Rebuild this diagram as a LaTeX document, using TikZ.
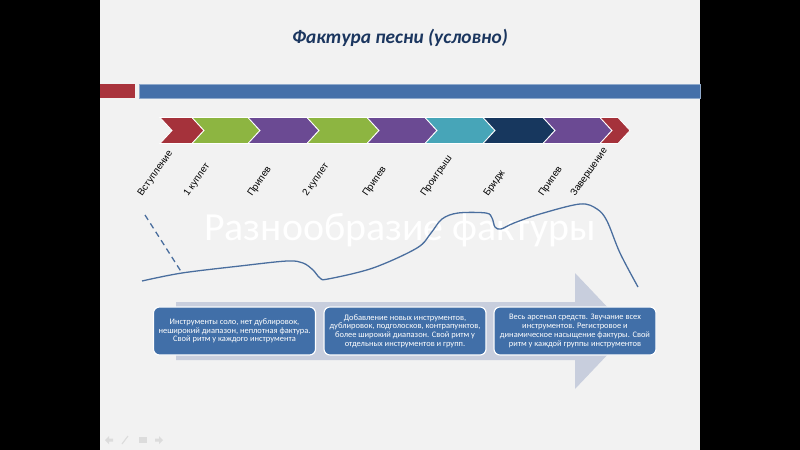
\documentclass[tikz,border=0pt]{standalone}
\usepackage{fontspec}
\setmainfont{Carlito}
\newfontfamily\labfont{Liberation Sans}
\definecolor{slidebg}{HTML}{F2F2F2}
\definecolor{titleblue}{HTML}{1B365F}
\definecolor{barred}{HTML}{A9333C}
\definecolor{barblue}{HTML}{4570A9}
\definecolor{cred}{HTML}{A5323B}
\definecolor{cgreen}{HTML}{8DB541}
\definecolor{cpurple}{HTML}{6B4A93}
\definecolor{cteal}{HTML}{47A5B8}
\definecolor{cnavy}{HTML}{17375E}
\definecolor{curveblue}{HTML}{4A6E9E}
\definecolor{arrowgray}{HTML}{C8CEDD}
\definecolor{boxblue}{HTML}{416FA8}
\definecolor{icongray}{HTML}{DCDCDC}
\newcommand\chevshape[3]{\filldraw[chev, fill=#3] (#1,117.5) -- (#2,117.5) -- ({#2+12},130.5) -- (#2,143.5) -- (#1,143.5) -- ({#1+12},130.5) -- cycle;}
\tikzset{
  chev/.style={draw=white, line width=0.7pt, line join=miter},
  boxnode/.style={draw=white, line width=1pt, fill=boxblue, rounded corners=0.18cm,
    text=white, align=center, minimum width=4.86cm, minimum height=1.44cm, inner sep=0pt,
    font=\fontsize{7.2}{7.5}\selectfont},
  stagelabel/.style={rotate=55, anchor=base west, inner sep=0pt, text=black,
    font=\labfont\fontsize{8.3}{9}\selectfont},
  curveline/.style={draw=curveblue, line width=1.1pt},
}
\begin{document}
\begin{tikzpicture}[x=0.03cm,y=-0.03cm]
\useasboundingbox (0,0) rectangle (800,450);
\fill[black] (0,0) rectangle (800,450);
\fill[slidebg] (100,0) rectangle (700,450);
% title
\node[anchor=base, text=titleblue, font=\fontsize{16.5}{18}\selectfont\bfseries\itshape, inner sep=0pt] (title) at (400,44) {Фактура песни (условно)};
% bars
\fill[barred] (100,84) rectangle (135,98);
\filldraw[fill=barblue, draw=barblue!60!white, line width=0.4pt] (139,84) rectangle (700,98);
% chevrons
\chevshape{160}{192}{cred}
\chevshape{192}{248}{cgreen}
\chevshape{248}{307}{cpurple}
\chevshape{307}{367}{cgreen}
\chevshape{367}{425}{cpurple}
\chevshape{425}{483}{cteal}
\chevshape{483}{543}{cnavy}
\chevshape{543}{600}{cpurple}
\chevshape{600}{618}{cred}
% labels
\node[stagelabel] (l1) at (142,197) {Вступление};
\node[stagelabel] (l2) at (188,197) {1 куплет};
\node[stagelabel] (l3) at (252,197) {Припев};
\node[stagelabel] (l4) at (307,197) {2 куплет};
\node[stagelabel] (l5) at (367,197) {Припев};
\node[stagelabel] (l6) at (425,197) {Проигрыш};
\node[stagelabel] (l7) at (488,197) {Бридж};
\node[stagelabel] (l8) at (543,197) {Припев};
\node[stagelabel] (l9) at (575,197) {Завершение};
% watermark
\node[anchor=base, text=white, font=\fontsize{34}{36}\selectfont, inner sep=0pt] (wm) at (400,240) {Разнообразие фактуры};
% curve
\draw[curveline, dashed, dash pattern=on 5pt off 3.5pt] (145,215) -- (182,273);
\draw[curveline] plot[smooth, tension=0.55] coordinates {(142,281) (182,273) (240,266) (287,261) (303,263) (313,270) (320,278) (328,279) (373,268) (417,248) (431,233) (442,219) (458,213) (486,213) (492,218) (495,227) (501,229) (514,223) (540,214) (580,204) (597,209) (607,221) (620,253) (638,287)};
% big arrow
\fill[arrowgray] (176,302) -- (575,302) -- (575,273) -- (630,331) -- (575,389) -- (575,360) -- (176,360) -- cycle;
% boxes
\node[boxnode] (b1) at (234.5,331) {Инструменты соло, нет дублировок,\\неширокий диапазон, неплотная фактура.\\Свой ритм у каждого инструмента};
\node[boxnode] (b2) at (405,331) {Добавление новых инструментов,\\дублировок, подголосков, контрапунктов,\\более широкий диапазон. Свой ритм у\\отдельных инструментов и групп.};
\node[boxnode] (b3) at (575,331) {Весь арсенал средств. Звучание всех\\инструментов. Регистровое и\\динамическое насыщение фактуры. Свой\\ритм у каждой группы инструментов};
% footer icons
\fill[icongray] (105,440) -- (109,436) -- (109,438.5) -- (113,438.5) -- (113,441.5) -- (109,441.5) -- (109,444) -- cycle;
\draw[icongray, line width=1pt] (122,444) -- (128,436);
\fill[icongray] (139,437) rectangle (147,443);
\fill[icongray] (163,440) -- (159,436) -- (159,438.5) -- (155,438.5) -- (155,441.5) -- (159,441.5) -- (159,444) -- cycle;
\end{tikzpicture}
\end{document}
